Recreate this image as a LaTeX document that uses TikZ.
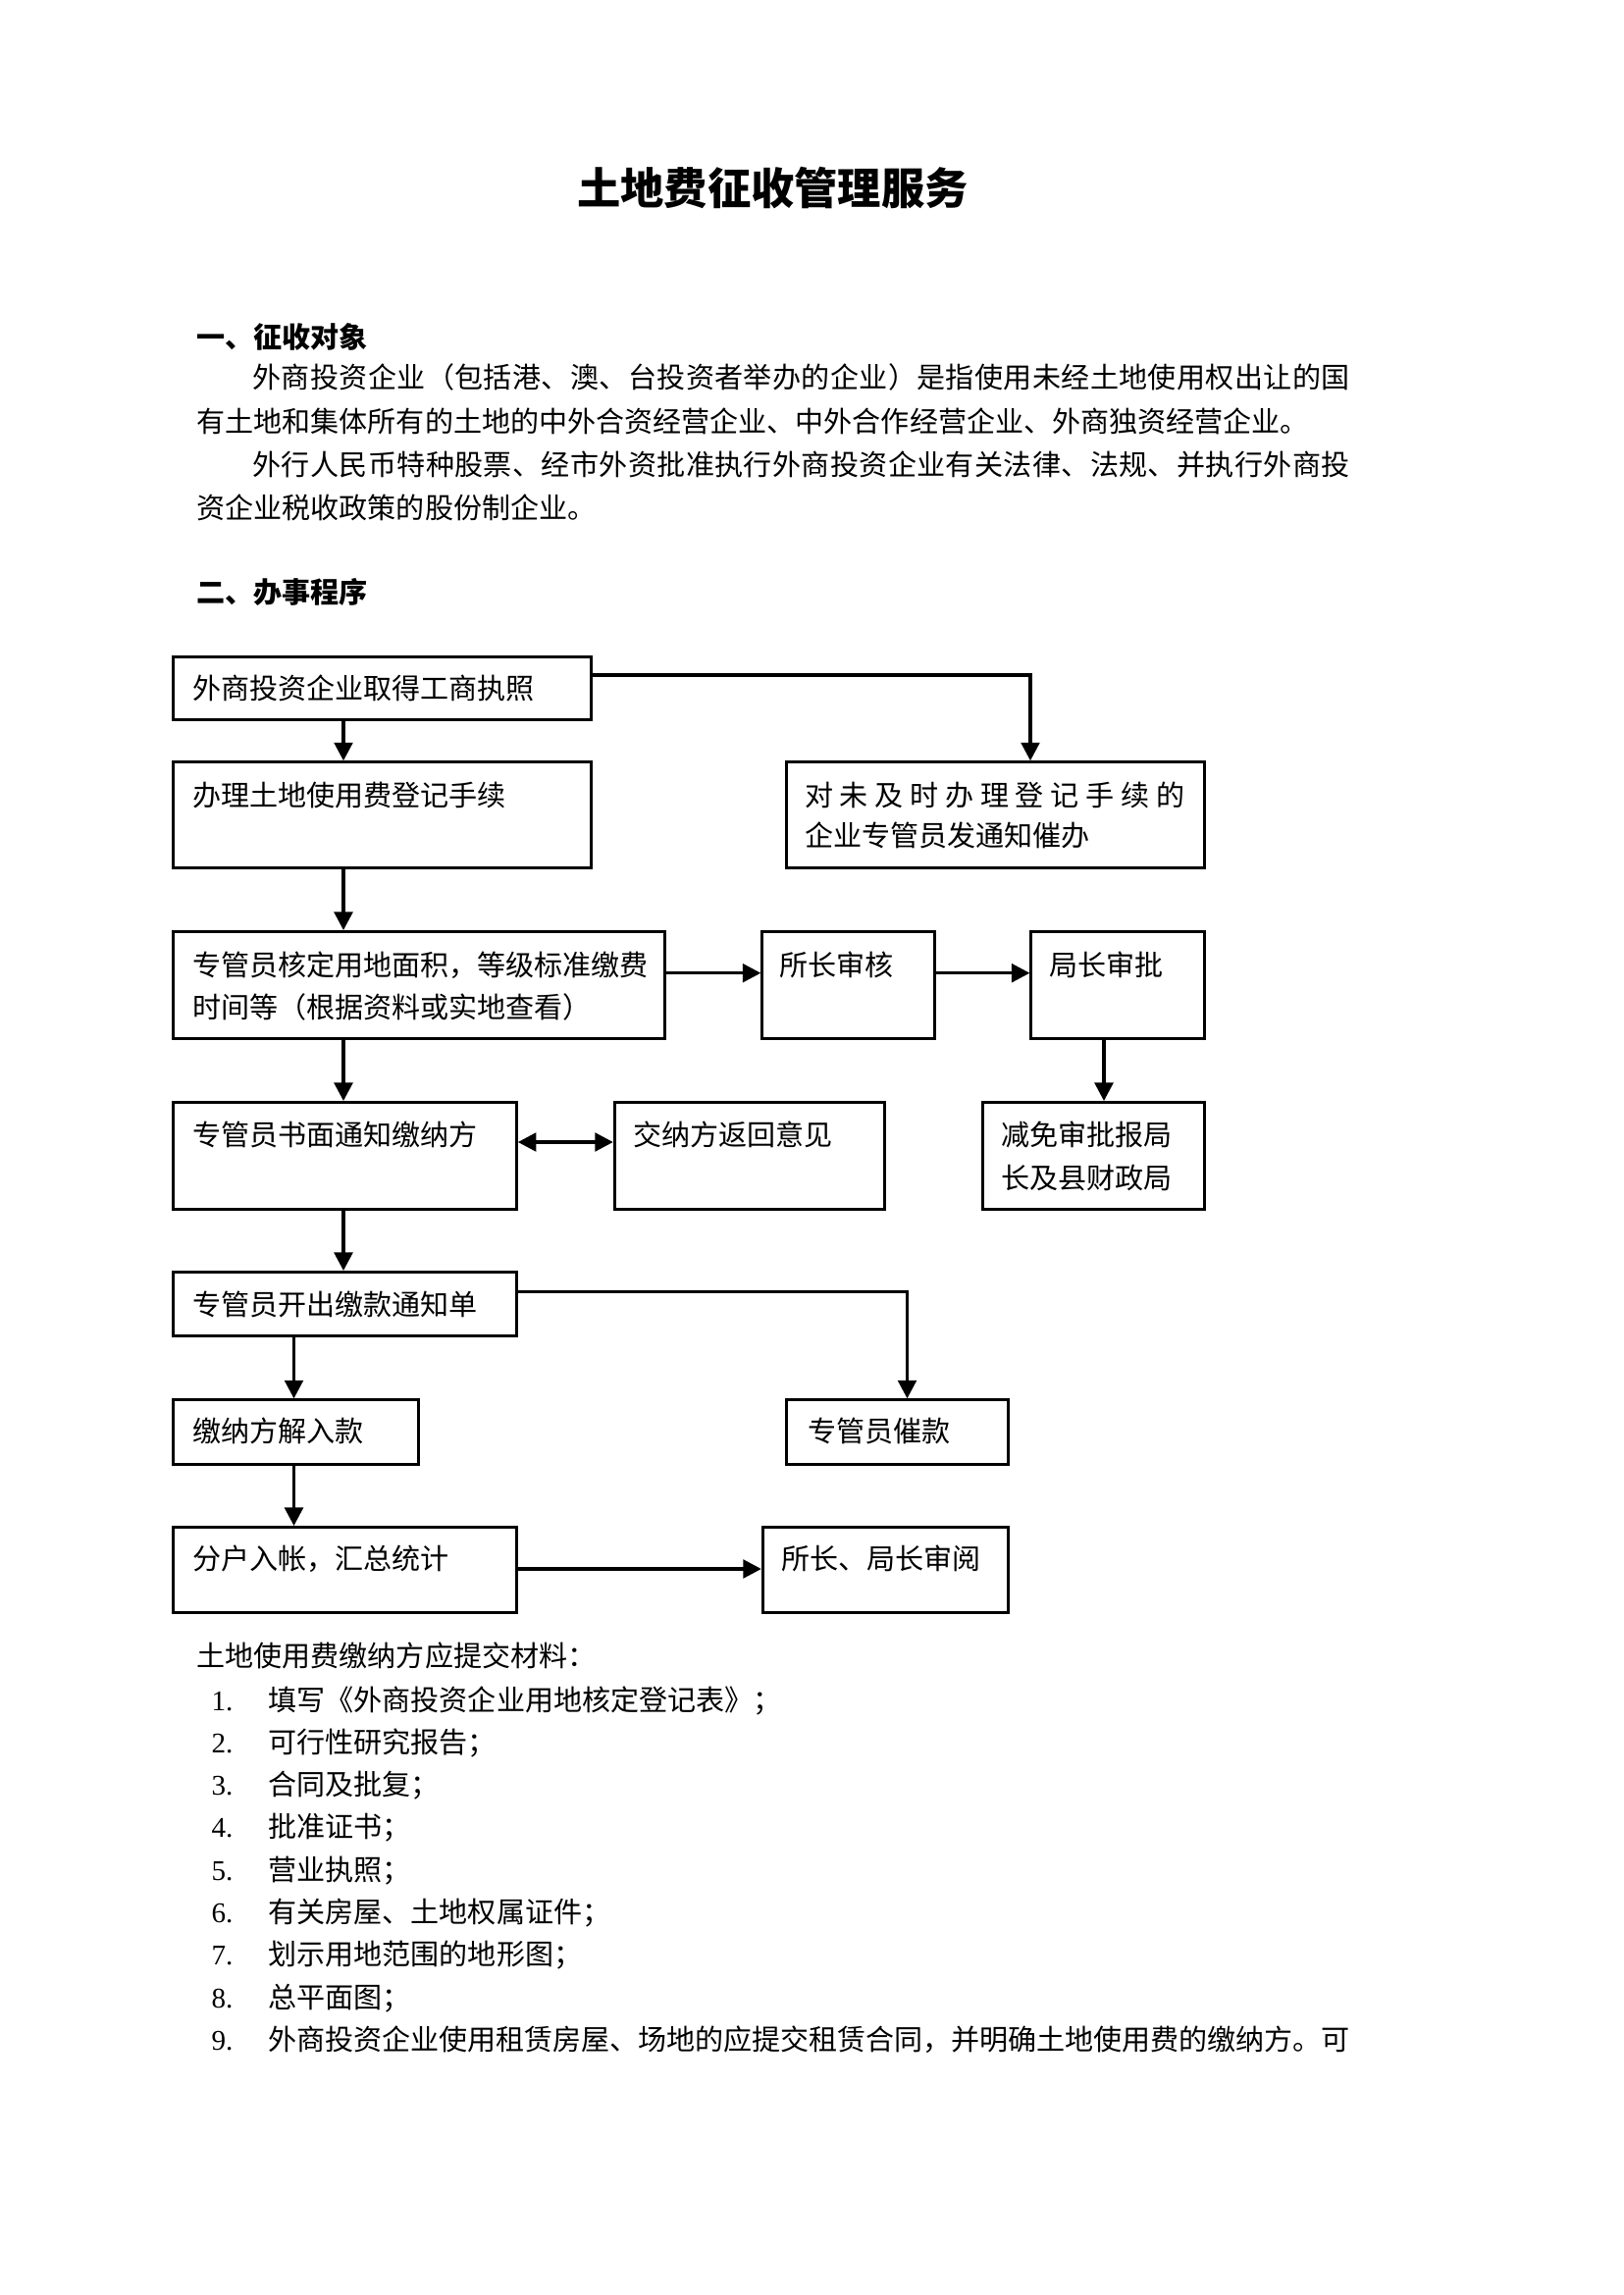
\documentclass[tikz,border=0pt]{standalone}
\usepackage{fontspec}
\setmainfont{Noto Sans CJK SC}
\newfontfamily\numf{Liberation Serif}
\usetikzlibrary{arrows.meta}
\newdimen\pxu \pxu=0.36135pt
% spread the characters of #2 evenly over width #1
\newcommand\jst[2]{\makebox[#1][s]{\jstloop#2\jstend}}
\def\jstloop#1#2\jstend{#1\ifx\relax#2\relax\else\hskip 0pt plus 1fil minus 0.5pt\jstloop#2\jstend\fi}
\tikzset{
  txt/.style={inner sep=0pt, anchor=base west, font=\fontsize{10.5pt}{14pt}\selectfont},
  hd/.style={inner sep=0pt, anchor=base west, font=\fontsize{10.5pt}{14pt}\selectfont\bfseries},
  num/.style={inner sep=0pt, anchor=base west, font=\numf\fontsize{10.5pt}{14pt}\selectfont},
  bx/.style 2 args={draw, line width=1.1pt, inner sep=0pt, anchor=north west,
    minimum width=#1*\pxu, minimum height=#2*\pxu},
  arr/.style={line width=1.1pt, -{Triangle[length=6.7pt,width=6.8pt]}},
  darr/.style={line width=1.1pt, {Triangle[length=6.7pt,width=6.8pt]}-{Triangle[length=6.7pt,width=6.8pt]}},
}
\begin{document}
\begin{tikzpicture}[x=0.36135pt, y=-0.36135pt]
\fill[white] (0,0) rectangle (1654,2339);
\useasboundingbox (0,0) rectangle (1654,2339);

% title and text
\node[inner sep=0pt, anchor=base, font=\fontsize{16pt}{20pt}\selectfont\bfseries] (title) at (787.5,208.5) {土地费征收管理服务};
\node[hd] (h1) at (200,355) {一、征收对象};
\node[txt] (p1) at (257,395.5) {\jst{1118\pxu}{外商投资企业（包括港、澳、台投资者举办的企业）是指使用未经土地使用权出让的国}};
\node[txt] (p2) at (200,440.5) {有土地和集体所有的土地的中外合资经营企业、中外合作经营企业、外商独资经营企业。};
\node[txt] (p3) at (257,484.5) {\jst{1118\pxu}{外行人民币特种股票、经市外资批准执行外商投资企业有关法律、法规、并执行外商投}};
\node[txt] (p4) at (200,529) {资企业税收政策的股份制企业。};
\node[hd] (h2) at (200,615) {二、办事程序};

% boxes
\node[bx={426.5}{64}]    (A) at (174.5,668) {};
\node[bx={426.5}{108}]   (B) at (174.5,775.3) {};
\node[bx={426}{108}]     (C) at (800,775.3) {};
\node[bx={501.2}{109}]   (D) at (174.5,948) {};
\node[bx={175.2}{109}]   (E) at (775.3,948) {};
\node[bx={176.6}{109}]   (F) at (1049.4,948) {};
\node[bx={350.3}{108.7}] (G) at (174.5,1122) {};
\node[bx={274.8}{108.7}] (H) at (624.8,1122) {};
\node[bx={225.8}{108.7}] (I) at (1000,1122) {};
\node[bx={350.5}{65}]    (J) at (174.5,1295) {};
\node[bx={250.3}{65.4}]  (K) at (174.5,1425.3) {};
\node[bx={226}{65.4}]    (L) at (800,1425.3) {};
\node[bx={350.5}{87}]    (M) at (174.5,1555) {};
\node[bx={250.2}{87}]    (N) at (775.8,1555) {};

% box texts
\node[txt] (At) at (195.5,712) {外商投资企业取得工商执照};
\node[txt] (Bt) at (195.5,821) {办理土地使用费登记手续};
\node[txt] (Ct1) at (819.5,821) {\jst{387\pxu}{对未及时办理登记手续的}};
\node[txt] (Ct2) at (819.5,862.7) {企业专管员发通知催办};
\node[txt] (Dt1) at (195.5,994) {专管员核定用地面积，等级标准缴费};
\node[txt] (Dt2) at (195.5,1037.7) {时间等（根据资料或实地查看）};
\node[txt] (Et) at (794,994) {所长审核};
\node[txt] (Ft) at (1068.5,994) {局长审批};
\node[txt] (Gt) at (195.5,1167.7) {专管员书面通知缴纳方};
\node[txt] (Ht) at (644.5,1167.7) {交纳方返回意见};
\node[txt] (It1) at (1019.5,1167.7) {减免审批报局};
\node[txt] (It2) at (1019.5,1211) {长及县财政局};
\node[txt] (Jt) at (195.5,1340) {专管员开出缴款通知单};
\node[txt] (Kt) at (195.5,1469) {缴纳方解入款};
\node[txt] (Lt) at (822.5,1469) {专管员催款};
\node[txt] (Mt) at (195.5,1599) {分户入帐，汇总统计};
\node[txt] (Nt) at (795.5,1599) {所长、局长审阅};

% connector guides
\coordinate (cA) at (350,0);
\coordinate (cK) at (299.5,0);
\coordinate (cC) at (1050,688);
\coordinate (cL) at (924.5,1316.7);
\coordinate (cI) at (1125,0);
\coordinate (rDE) at (0,991.7);
\coordinate (rGH) at (0,1164);
\coordinate (rMN) at (0,1599);

% connectors
\draw[arr] (A.south -| cA) -- (B.north -| cA);
\draw[arr] (B.south -| cA) -- (D.north -| cA);
\draw[arr] (D.south -| cA) -- (G.north -| cA);
\draw[arr] (G.south -| cA) -- (J.north -| cA);
\draw[arr] (A.east |- cC) -- (cC) -- (C.north -| cC);
\draw[arr] (D.east |- rDE) -- (E.west |- rDE);
\draw[arr] (E.east |- rDE) -- (F.west |- rDE);
\draw[arr] (F.south -| cI) -- (I.north -| cI);
\draw[darr] (G.east |- rGH) -- (H.west |- rGH);
\draw[arr] (J.east |- cL) -- (cL) -- (L.north -| cL);
\draw[arr] (J.south -| cK) -- (K.north -| cK);
\draw[arr] (K.south -| cK) -- (M.north -| cK);
\draw[arr] (M.east |- rMN) -- (N.west |- rMN);

% materials list
\node[txt] (li0) at (200,1698) {土地使用费缴纳方应提交材料：};
\node[num] (n1) at (215,1743) {1.};
\node[txt] (l1) at (273,1743) {填写《外商投资企业用地核定登记表》；};
\node[num] (n2) at (215,1786.3) {2.};
\node[txt] (l2) at (273,1786.3) {可行性研究报告；};
\node[num] (n3) at (215,1829.6) {3.};
\node[txt] (l3) at (273,1829.6) {合同及批复；};
\node[num] (n4) at (215,1872.9) {4.};
\node[txt] (l4) at (273,1872.9) {批准证书；};
\node[num] (n5) at (215,1916.2) {5.};
\node[txt] (l5) at (273,1916.2) {营业执照；};
\node[num] (n6) at (215,1959.5) {6.};
\node[txt] (l6) at (273,1959.5) {有关房屋、土地权属证件；};
\node[num] (n7) at (215,2002.8) {7.};
\node[txt] (l7) at (273,2002.8) {划示用地范围的地形图；};
\node[num] (n8) at (215,2046.1) {8.};
\node[txt] (l8) at (273,2046.1) {总平面图；};
\node[num] (n9) at (215,2089.4) {9.};
\node[txt] (l9) at (273,2089.4) {\jst{1102\pxu}{外商投资企业使用租赁房屋、场地的应提交租赁合同，并明确土地使用费的缴纳方。可}};
\end{tikzpicture}
\end{document}
